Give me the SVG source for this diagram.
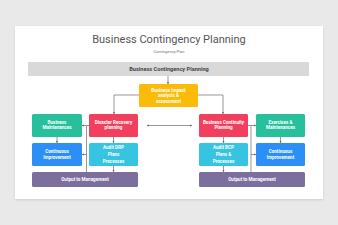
<svg xmlns="http://www.w3.org/2000/svg" width="338" height="225" viewBox="0 0 338 225">
<defs>
<filter id="sh" x="-5%" y="-5%" width="110%" height="115%">
<feDropShadow dx="0" dy="1" stdDeviation="1.2" flood-color="#000" flood-opacity="0.12"/>
</filter>
<marker id="ah" viewBox="0 0 6 6" refX="6" refY="3" markerWidth="3" markerHeight="3" orient="auto-start-reverse">
<path d="M0,0 L6,3 L0,6 z" fill="#666"/>
</marker>
</defs>
<style>
.t{font-family:Roboto,"Liberation Sans",sans-serif;fill:#fff;font-weight:bold;font-size:4.6px;text-anchor:middle}
.c{fill:none;stroke:#6b6b6b;stroke-width:0.7}
</style>
<rect width="338" height="225" fill="#e9e9e9"/>
<rect x="15" y="26" width="308" height="173" fill="#fff" filter="url(#sh)"/>
<text x="169" y="43" font-family="Roboto,'Liberation Sans',sans-serif" font-size="11" fill="#555" text-anchor="middle">Business Contingency Planning</text>
<text x="169" y="53" font-family="Roboto,'Liberation Sans',sans-serif" font-size="4" fill="#777" text-anchor="middle">Contingency  Plan</text>
<g id="header">
<rect x="28" y="62" width="281" height="14" fill="#d9d9d9" rx="1"/>
<text x="169" y="71.3" font-family="Roboto,'Liberation Sans',sans-serif" font-size="5.6" font-weight="bold" fill="#444" text-anchor="middle">Business Contingency Planning</text>
</g>
<g id="connectors">
<line class="c" x1="168" y1="76" x2="168" y2="84" marker-end="url(#ah)"/>
<polyline class="c" points="139,95 114,95 114,114" marker-end="url(#ah)"/>
<polyline class="c" points="198,95 223,95 223,114" marker-end="url(#ah)"/>
<line class="c" x1="147" y1="125.5" x2="192" y2="125.5" marker-start="url(#ah)" marker-end="url(#ah)"/>
<line class="c" x1="86.5" y1="125.5" x2="86.5" y2="172"/>
<line class="c" x1="89" y1="125.5" x2="82" y2="125.5" marker-end="url(#ah)"/>
<line class="c" x1="86.5" y1="154.5" x2="82" y2="154.5" marker-end="url(#ah)"/>
<line class="c" x1="57" y1="137" x2="57" y2="143" marker-end="url(#ah)"/>
<line class="c" x1="113.5" y1="137" x2="113.5" y2="143" marker-end="url(#ah)"/>
<line class="c" x1="113.5" y1="166" x2="113.5" y2="172" marker-end="url(#ah)"/>
<line class="c" x1="251" y1="125.5" x2="251" y2="172"/>
<line class="c" x1="248" y1="125.5" x2="256" y2="125.5" marker-end="url(#ah)"/>
<line class="c" x1="251" y1="154.5" x2="256" y2="154.5" marker-end="url(#ah)"/>
<line class="c" x1="280.5" y1="137" x2="280.5" y2="143" marker-end="url(#ah)"/>
<line class="c" x1="223.5" y1="137" x2="223.5" y2="143" marker-end="url(#ah)"/>
<line class="c" x1="223.5" y1="166" x2="223.5" y2="172" marker-end="url(#ah)"/>
</g>
<g id="bia">
<rect x="139" y="84" width="59" height="23" rx="1.5" fill="#fbbc07"/>
<text class="t" x="168.5" y="91.6">Business Impact</text>
<text class="t" x="168.5" y="97.3">analysis &amp;</text>
<text class="t" x="168.5" y="102.9">assessment</text>
</g>
<g id="bm">
<rect x="32" y="114" width="50" height="23" rx="1.5" fill="#27bf9c"/>
<text class="t" x="57" y="123.9">Business</text>
<text class="t" x="57" y="129.4">Maintenances</text>
</g>
<g id="drp">
<rect x="89" y="114" width="49" height="23" rx="1.5" fill="#f23f5d"/>
<text class="t" x="113.5" y="123.9">Disaster Recovery</text>
<text class="t" x="113.5" y="129.4">planning</text>
</g>
<g id="ci1">
<rect x="32" y="143" width="50" height="23" rx="1.5" fill="#2c8ff5"/>
<text class="t" x="57" y="152.6">Continuous</text>
<text class="t" x="57" y="158.9">Improvement</text>
</g>
<g id="adrp">
<rect x="89" y="143" width="49" height="23" rx="1.5" fill="#36c4e1"/>
<text class="t" x="113.5" y="149.4">Audit DRP</text>
<text class="t" x="113.5" y="156.1">Plans</text>
<text class="t" x="113.5" y="162.7">Processes</text>
</g>
<g id="out1">
<rect x="32" y="172" width="106" height="15" rx="1.5" fill="#7d6f9d"/>
<text class="t" x="85" y="181.1">Output to Management</text>
</g>
<g id="bcp">
<rect x="199" y="114" width="49" height="23" rx="1.5" fill="#f23f5d"/>
<text class="t" x="223.5" y="123.9">Business Continuity</text>
<text class="t" x="223.5" y="129.4">Planning</text>
</g>
<g id="em">
<rect x="256" y="114" width="49" height="23" rx="1.5" fill="#27bf9c"/>
<text class="t" x="280.5" y="123.9">Exercises &amp;</text>
<text class="t" x="280.5" y="129.4">Maintenances</text>
</g>
<g id="abcp">
<rect x="199" y="143" width="49" height="23" rx="1.5" fill="#36c4e1"/>
<text class="t" x="223.5" y="149.4">Audit BCP</text>
<text class="t" x="223.5" y="156.1">Plans &amp;</text>
<text class="t" x="223.5" y="162.7">Processes</text>
</g>
<g id="ci2">
<rect x="256" y="143" width="49" height="23" rx="1.5" fill="#2c8ff5"/>
<text class="t" x="280.5" y="152.6">Continuous</text>
<text class="t" x="280.5" y="158.9">Improvement</text>
</g>
<g id="out2">
<rect x="199" y="172" width="106" height="15" rx="1.5" fill="#7d6f9d"/>
<text class="t" x="252" y="181.1">Output to Management</text>
</g>
</svg>
